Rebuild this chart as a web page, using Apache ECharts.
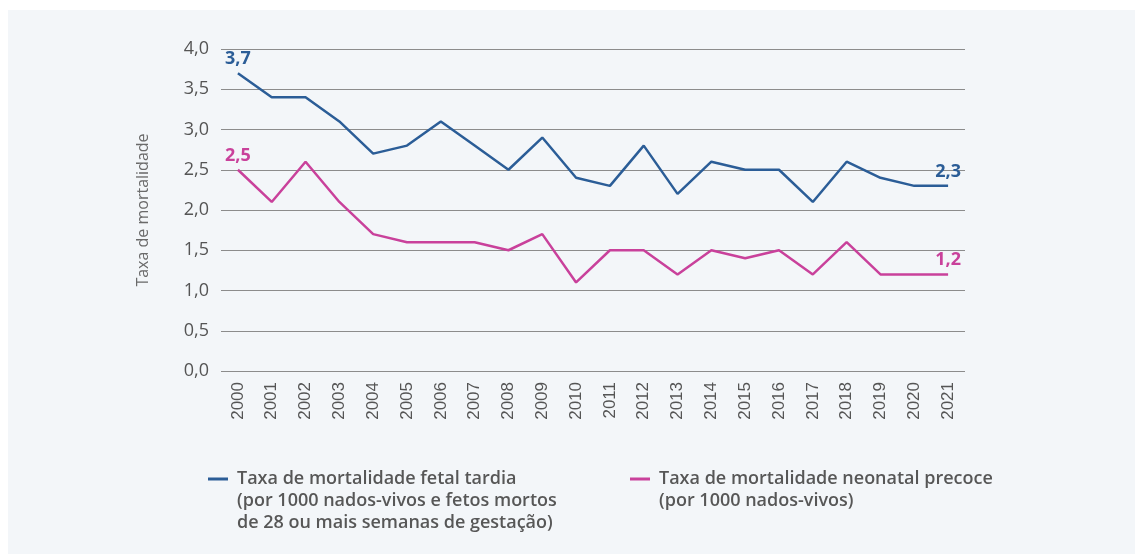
<!DOCTYPE html>
<html lang="pt">
<head>
    <meta charset="UTF-8">
    <title>Taxa de mortalidade</title>
    <script src="https://cdn.jsdelivr.net/npm/echarts@6/dist/echarts.min.js"></script>
    <style>
        * {padding: 0; margin: 0;}
        body {background: #fff;}
        #panel {position: absolute; left: 8px; top: 10px; right: 0; bottom: 0; background: #f3f6f9;}
        #main {position: absolute; left: 0; top: 0; width: 1135px; height: 554px;}
    </style>
</head>
<body>
    <div id="panel"></div>
    <div id="main"></div>

    <script>
        const years = ['2000','2001','2002','2003','2004','2005','2006','2007','2008','2009','2010',
                       '2011','2012','2013','2014','2015','2016','2017','2018','2019','2020','2021'];
        const fetalTardia = [3.7,3.4,3.4,3.1,2.7,2.8,3.1,2.8,2.5,2.9,2.4,2.3,2.8,2.2,2.6,2.5,2.5,2.1,2.6,2.4,2.3,2.3];
        const neonatalPrecoce = [2.5,2.1,2.6,2.1,1.7,1.6,1.6,1.6,1.5,1.7,1.1,1.5,1.5,1.2,1.5,1.4,1.5,1.2,1.6,1.2,1.2,1.2];
        const nameFetal = 'Taxa de mortalidade fetal tardia\n(por 1000 nados-vivos e fetos mortos\nde 28 ou mais semanas de gestação)';
        const nameNeonatal = 'Taxa de mortalidade neonatal precoce\n(por 1000 nados-vivos)';

        const blue = '#2b5d97';
        const pink = '#c9419b';
        const comma = v => v.toFixed(1).replace('.', ',');

        const chart = echarts.init(document.getElementById('main'));

        // only first and last point get a value label
        function endLabels(values) {
            return values.map((v, i) => {
                if (i === 0 || i === values.length - 1) {
                    return {value: v, label: {show: true}};
                }
                return v;
            });
        }

        // legend text is centred on the icon, so blank lines on top keep
        // the icon level with the first line
        function legendFor(name, color, top, left) {
            const lines = name.split('\n').length;
            return {
                left: left,
                top: top,
                padding: 0,
                data: [name],
                icon: 'rect',
                itemWidth: 20,
                itemHeight: 3,
                selectedMode: false,
                itemStyle: {color: color},
                formatter: n => '\n'.repeat(lines - 1) + n,
                textStyle: {
                    fontFamily: 'Open Sans',
                    fontWeight: 600,
                    fontSize: 18,
                    color: '#575757',
                    lineHeight: 22,
                    padding: [0, 0, 0, 4]
                }
            };
        }

        function seriesFor(name, values, color) {
            return {
                name: name,
                type: 'line',
                data: endLabels(values),
                symbol: 'circle',
                symbolSize: 0.1,
                showAllSymbol: true,
                lineStyle: {color: color, width: 2.5},
                itemStyle: {color: color},
                label: {
                    show: false,
                    position: 'top',
                    distance: 5,
                    formatter: p => comma(p.value),
                    fontSize: 18,
                    fontWeight: 700,
                    color: color
                }
            };
        }

        chart.setOption({
            animation: false,
            textStyle: {fontFamily: 'Open Sans'},
            grid: {left: 221, right: 170, top: 49, bottom: 183},
            legend: [
                legendFor(nameFetal, blue, 424, 208),
                legendFor(nameNeonatal, pink, 446, 630)
            ],
            xAxis: {
                type: 'category',
                data: years,
                axisLine: {show: false},
                axisTick: {show: false},
                axisLabel: {
                    rotate: 90,
                    margin: 11,
                    fontFamily: 'Liberation Sans',
                    fontSize: 17,
                    color: '#555'
                }
            },
            yAxis: {
                type: 'value',
                min: 0,
                max: 4,
                interval: 0.5,
                name: 'Taxa de mortalidade',
                nameLocation: 'middle',
                nameGap: 70,
                nameTextStyle: {fontSize: 16, color: '#6a6a6a'},
                axisLine: {show: false},
                axisTick: {show: false},
                axisLabel: {
                    formatter: comma,
                    margin: 12,
                    fontSize: 18,
                    color: '#555'
                },
                splitLine: {lineStyle: {color: '#8c8c8c', width: 1}}
            },
            series: [
                seriesFor(nameFetal, fetalTardia, blue),
                seriesFor(nameNeonatal, neonatalPrecoce, pink)
            ]
        });
    </script>
</body>
</html>
